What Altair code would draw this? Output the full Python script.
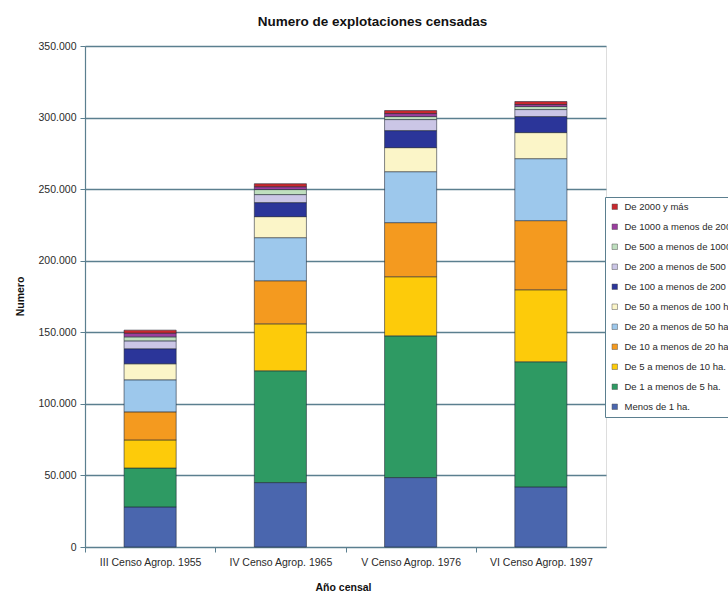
import altair as alt
import pandas as pd

# Census rounds on the x axis
censos = [
    "III Censo Agrop. 1955",
    "IV Censo Agrop. 1965",
    "V Censo Agrop. 1976",
    "VI Censo Agrop. 1997",
]

# Farm size strata, from the smallest (bottom of each stack) to the largest
estratos = [
    "Menos de 1 ha.",
    "De 1 a menos de 5 ha.",
    "De 5 a menos de 10 ha.",
    "De 10 a menos de 20 ha.",
    "De 20 a menos de 50 ha.",
    "De 50 a menos de 100 ha.",
    "De 100 a menos de 200 ha.",
    "De 200 a menos de 500 ha.",
    "De 500 a menos de 1000 ha.",
    "De 1000 a menos de 2000 ha.",
    "De 2000 y más",
]

colores = [
    "#4A66AE",  # Menos de 1 ha.
    "#2E9A63",  # 1 - 5
    "#FDCB0A",  # 5 - 10
    "#F49A1F",  # 10 - 20
    "#9DC8EC",  # 20 - 50
    "#FBF5C8",  # 50 - 100
    "#2B3599",  # 100 - 200
    "#CBC6E6",  # 200 - 500
    "#BFDFBF",  # 500 - 1000
    "#9A3E9E",  # 1000 - 2000
    "#C8282E",  # 2000 y más
]

# Number of farms per stratum, one list per census (same order as estratos)
censo_1955 = [28000, 27200, 19600, 19600, 22400, 11200, 10500, 5500, 2800, 2600, 2100]
censo_1965 = [45000, 78100, 32800, 30100, 30100, 14700, 9800, 5600, 3500, 2000, 2100]
censo_1976 = [48500, 99000, 41300, 37800, 35600, 16800, 11900, 7700, 2100, 2100, 2100]
censo_1997 = [42000, 87400, 50300, 48300, 43300, 18200, 11200, 4900, 2100, 1400, 2100]

valores = [censo_1955, censo_1965, censo_1976, censo_1997]

y_ticks = [0, 50000, 100000, 150000, 200000, 250000, 300000, 350000]

rows = []
for censo, serie in zip(censos, valores):
    for orden, (estrato, valor) in enumerate(zip(estratos, serie)):
        rows.append({"censo": censo, "estrato": estrato, "valor": valor, "orden": orden})
df = pd.DataFrame(rows)

FONT = "Liberation Sans"
LINE = "#5B7F8F"
TEXT = "#2a2a2a"

step = 521 / len(censos)

chart = (
    alt.Chart(df)
    .mark_bar(
        width=alt.RelativeBandSize(0.4),
        stroke="#1c2433",
        strokeWidth=0.7,
        strokeOpacity=0.8,
    )
    .encode(
        x=alt.X(
            "censo:N",
            sort=censos,
            scale=alt.Scale(paddingInner=0, paddingOuter=0),
            axis=alt.Axis(
                title="Año censal",
                titleFont=FONT,
                titleFontSize=10.5,
                titleFontWeight="bold",
                titleColor="#111",
                titleX=258,
                titleY=40,
                titleAlign="center",
                titleBaseline="middle",
                labelAngle=0,
                labelFont=FONT,
                labelFontSize=10.5,
                labelColor=TEXT,
                labelPadding=5,
                tickOffset=-step / 2,
                labelOffset=step / 2,
                tickSize=5,
                tickColor=LINE,
                domainColor=LINE,
                domainWidth=1.2,
                grid=False,
            ),
        ),
        y=alt.Y(
            "valor:Q",
            stack="zero",
            scale=alt.Scale(domain=[0, 350000], nice=False),
            axis=alt.Axis(
                values=y_ticks,
                labelExpr="replace(format(datum.value, ','), ',', '.')",
                title="Numero",
                titleFont=FONT,
                titleFontSize=10.5,
                titleFontWeight="bold",
                titleColor="#111",
                titleX=-65,
                titleY=250,
                titleAlign="center",
                titleBaseline="middle",
                labelFont=FONT,
                labelFontSize=10.5,
                labelColor=TEXT,
                labelPadding=4,
                tickSize=5,
                tickColor=LINE,
                domainColor=LINE,
                domainWidth=1.2,
                grid=True,
                gridColor=LINE,
                gridWidth=1.3,
            ),
        ),
        color=alt.Color(
            "estrato:N",
            scale=alt.Scale(domain=estratos[::-1], range=colores[::-1]),
            legend=alt.Legend(
                title=None,
                orient="none",
                legendX=520,
                legendY=151,
                symbolType="square",
                symbolSize=30,
                symbolStrokeWidth=0.5,
                symbolStrokeColor="#555",
                labelFont=FONT,
                labelFontSize=9.5,
                labelColor=TEXT,
                labelLimit=400,
                labelOffset=5,
                rowPadding=9,
                padding=5,
                strokeColor=LINE,
                fillColor="white",
            ),
        ),
        order=alt.Order("orden:Q", sort="ascending"),
    )
    .properties(
        width=521,
        height=501,
        title=alt.TitleParams(
            "Numero de explotaciones censadas",
            font=FONT,
            fontSize=13.5,
            fontWeight="bold",
            color="#111",
            anchor="middle",
            dx=27,
            offset=13,
        ),
        autosize=alt.AutoSizeParams(type="none"),
        padding={"left": 85, "top": 46, "right": 122, "bottom": 47},
    )
    .configure_view(stroke=LINE, strokeWidth=1.2)
    .configure(background="white")
)

chart.save("out.html", embed_options={"renderer": "svg", "actions": False})
